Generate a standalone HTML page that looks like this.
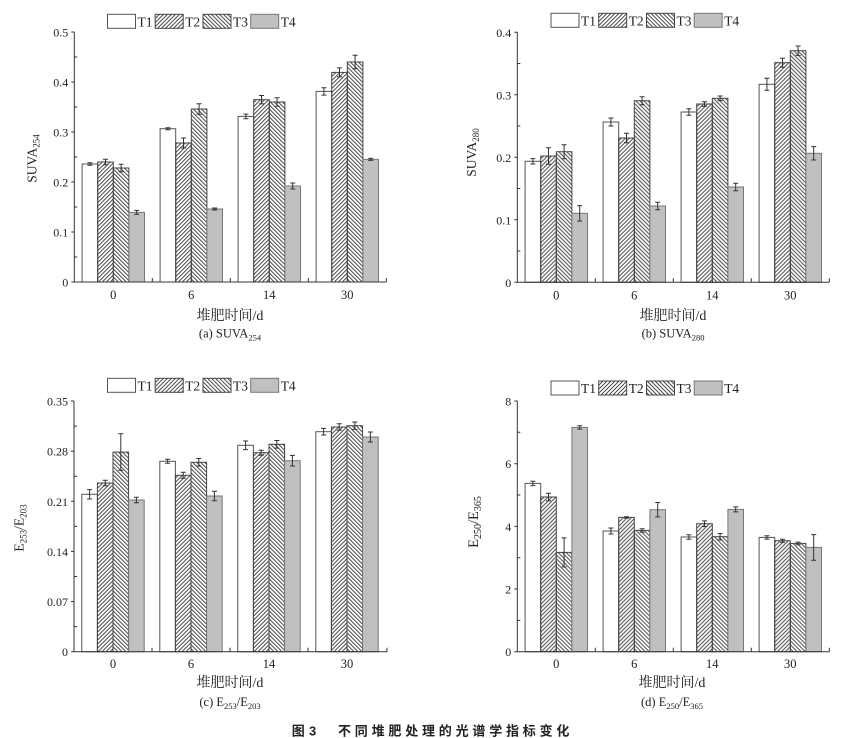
<!DOCTYPE html>
<html><head><meta charset="utf-8"><style>
html,body{margin:0;padding:0;background:#fff;}
svg{display:block;}
text{font-family:"Liberation Serif","Noto Serif CJK SC",serif;fill:#222;}
.b1{fill:#fff;stroke:#555;stroke-width:1;}
.b2{fill:url(#h2);stroke:#444;stroke-width:1;}
.b3{fill:url(#h3);stroke:#444;stroke-width:1;}
.b4{fill:#c0c0c0;stroke:#777;stroke-width:1;}
.ax{stroke:#333;stroke-width:1;fill:none;}
.er{stroke:#333;stroke-width:1;fill:none;}
.tk{font-size:12px;}
.tx{font-size:12.5px;}
.lg{font-size:13.5px;}
</style></head><body>
<svg width="844" height="738" viewBox="0 0 844 738" xmlns="http://www.w3.org/2000/svg">
<defs>
<pattern id="h2" patternUnits="userSpaceOnUse" width="4" height="4"><path d="M-1,1 l2,-2 M0,4 l4,-4 M3,5 l2,-2" stroke="#333" stroke-width="0.9"/></pattern>
<pattern id="h3" patternUnits="userSpaceOnUse" width="4" height="4"><path d="M-1,3 l2,2 M0,0 l4,4 M3,-1 l2,2" stroke="#333" stroke-width="0.9"/></pattern>
</defs>
<rect width="844" height="738" fill="#fff"/>

<!-- ===== Panel (a) ===== -->
<g transform="translate(107.5,14.3)">
<rect class="b1" x="0" y="0" width="28" height="14"/><text class="lg" x="30" y="12">T1</text>
<rect class="b2" x="47.7" y="0" width="28" height="14"/><text class="lg" x="77.7" y="12">T2</text>
<rect class="b3" x="95.5" y="0" width="28" height="14"/><text class="lg" x="125.5" y="12">T3</text>
<rect class="b4" x="143.2" y="0" width="28" height="14"/><text class="lg" x="173.2" y="12">T4</text>
</g>
<g transform="translate(74.3,282)">
<rect class="b1" x="7.8" y="-118" width="15.6" height="118"/>
<rect class="b2" x="23.4" y="-120" width="15.6" height="120"/>
<rect class="b3" x="39" y="-114" width="15.6" height="114"/>
<rect class="b4" x="54.6" y="-69.6" width="15.6" height="69.6"/>
<rect class="b1" x="85.8" y="-153.3" width="15.6" height="153.3"/>
<rect class="b2" x="101.4" y="-139" width="15.6" height="139"/>
<rect class="b3" x="117" y="-173" width="15.6" height="173"/>
<rect class="b4" x="132.6" y="-73" width="15.6" height="73"/>
<rect class="b1" x="163.8" y="-165.6" width="15.6" height="165.6"/>
<rect class="b2" x="179.4" y="-182.3" width="15.6" height="182.3"/>
<rect class="b3" x="195" y="-180" width="15.6" height="180"/>
<rect class="b4" x="210.6" y="-96" width="15.6" height="96"/>
<rect class="b1" x="241.8" y="-190.6" width="15.6" height="190.6"/>
<rect class="b2" x="257.4" y="-209.6" width="15.6" height="209.6"/>
<rect class="b3" x="273" y="-220" width="15.6" height="220"/>
<rect class="b4" x="288.6" y="-122.6" width="15.6" height="122.6"/>
<path class="er" d="M13.1,-119.3h5M15.6,-119.3V-116.7M13.1,-116.7h5M28.7,-122.7h5M31.2,-122.7V-117.3M28.7,-117.3h5M44.3,-117.7h5M46.8,-117.7V-110.3M44.3,-110.3h5M59.9,-71.6h5M62.4,-71.6V-67.6M59.9,-67.6h5M91.1,-154.3h5M93.6,-154.3V-152.3M91.1,-152.3h5M106.7,-144h5M109.2,-144V-134M106.7,-134h5M122.3,-178.3h5M124.8,-178.3V-167.7M122.3,-167.7h5M137.9,-74h5M140.4,-74V-72M137.9,-72h5M169.1,-167.9h5M171.6,-167.9V-163.3M169.1,-163.3h5M184.7,-186.5h5M187.2,-186.5V-178.1M184.7,-178.1h5M200.3,-184.2h5M202.8,-184.2V-175.8M200.3,-175.8h5M215.9,-99h5M218.4,-99V-93M215.9,-93h5M247.1,-194.3h5M249.6,-194.3V-186.9M247.1,-186.9h5M262.7,-214.1h5M265.2,-214.1V-205.1M262.7,-205.1h5M278.3,-226.7h5M280.8,-226.7V-213.3M278.3,-213.3h5M293.9,-123.6h5M296.4,-123.6V-121.6M293.9,-121.6h5"/>
<path class="ax" d="M0,-250V0H312M-3,0H0M-3,-50H0M-3,-100H0M-3,-150H0M-3,-200H0M-3,-250H0M0,-25H3M0,-75H3M0,-125H3M0,-175H3M0,-225H3M78,0V-4M156,0V-4M234,0V-4M312,0V-4"/>
<g class="tk" text-anchor="end">
<text x="-6" y="4.5">0</text><text x="-6" y="-45.5">0.1</text><text x="-6" y="-95.5">0.2</text><text x="-6" y="-145.5">0.3</text><text x="-6" y="-195.5">0.4</text><text x="-6" y="-245.5">0.5</text>
</g>
<g class="tx" text-anchor="middle">
<text x="39" y="17">0</text><text x="117" y="17">6</text><text x="195" y="17">14</text><text x="273" y="17">30</text>
</g>
</g>
<text x="230" y="320" text-anchor="middle" font-size="14">堆肥时间/d</text>
<text x="230" y="337.5" text-anchor="middle" font-size="12.5">(a) SUVA<tspan font-size="8.5" dy="3">254</tspan></text>
<text transform="translate(36.5,158.5) rotate(-90)" text-anchor="middle" font-size="13.5">SUVA<tspan font-size="9" dy="3">254</tspan></text>

<!-- ===== Panel (b) ===== -->
<g transform="translate(551,13.3)">
<rect class="b1" x="0" y="0" width="28" height="14"/><text class="lg" x="30" y="12">T1</text>
<rect class="b2" x="47.7" y="0" width="28" height="14"/><text class="lg" x="77.7" y="12">T2</text>
<rect class="b3" x="95.5" y="0" width="28" height="14"/><text class="lg" x="125.5" y="12">T3</text>
<rect class="b4" x="143.2" y="0" width="28" height="14"/><text class="lg" x="173.2" y="12">T4</text>
</g>
<g transform="translate(517.3,282.3)">
<rect class="b1" x="7.8" y="-121" width="15.6" height="121"/>
<rect class="b2" x="23.4" y="-126.3" width="15.6" height="126.3"/>
<rect class="b3" x="39" y="-130.6" width="15.6" height="130.6"/>
<rect class="b4" x="54.6" y="-69" width="15.6" height="69"/>
<rect class="b1" x="85.8" y="-160.3" width="15.6" height="160.3"/>
<rect class="b2" x="101.4" y="-144.3" width="15.6" height="144.3"/>
<rect class="b3" x="117" y="-181.6" width="15.6" height="181.6"/>
<rect class="b4" x="132.6" y="-76.3" width="15.6" height="76.3"/>
<rect class="b1" x="163.8" y="-170.3" width="15.6" height="170.3"/>
<rect class="b2" x="179.4" y="-178.3" width="15.6" height="178.3"/>
<rect class="b3" x="195" y="-184" width="15.6" height="184"/>
<rect class="b4" x="210.6" y="-95.3" width="15.6" height="95.3"/>
<rect class="b1" x="241.8" y="-198" width="15.6" height="198"/>
<rect class="b2" x="257.4" y="-219.6" width="15.6" height="219.6"/>
<rect class="b3" x="273" y="-231.6" width="15.6" height="231.6"/>
<rect class="b4" x="288.6" y="-129" width="15.6" height="129"/>
<path class="er" d="M13.1,-123.7h5M15.6,-123.7V-118.3M13.1,-118.3h5M28.7,-134.6h5M31.2,-134.6V-118M28.7,-118h5M44.3,-137.6h5M46.8,-137.6V-123.6M44.3,-123.6h5M59.9,-76.7h5M62.4,-76.7V-61.3M59.9,-61.3h5M91.1,-164.3h5M93.6,-164.3V-156.3M91.1,-156.3h5M106.7,-149h5M109.2,-149V-139.6M106.7,-139.6h5M122.3,-185.6h5M124.8,-185.6V-177.6M122.3,-177.6h5M137.9,-80.1h5M140.4,-80.1V-72.5M137.9,-72.5h5M169.1,-173.6h5M171.6,-173.6V-167M169.1,-167h5M184.7,-180.6h5M187.2,-180.6V-176M184.7,-176h5M200.3,-186.3h5M202.8,-186.3V-181.7M200.3,-181.7h5M215.9,-99.1h5M218.4,-99.1V-91.5M215.9,-91.5h5M247.1,-204h5M249.6,-204V-192M247.1,-192h5M262.7,-224.1h5M265.2,-224.1V-215.1M262.7,-215.1h5M278.3,-236.3h5M280.8,-236.3V-226.9M278.3,-226.9h5M293.9,-135.7h5M296.4,-135.7V-122.3M293.9,-122.3h5"/>
<path class="ax" d="M0,-250V0H312M-3,0H0M-3,-62.5H0M-3,-125H0M-3,-187.5H0M-3,-250H0M0,-31.25H3M0,-93.75H3M0,-156.25H3M0,-218.75H3M78,0V-4M156,0V-4M234,0V-4M312,0V-4"/>
<g class="tk" text-anchor="end">
<text x="-6" y="4.5">0</text><text x="-6" y="-58">0.1</text><text x="-6" y="-120.5">0.2</text><text x="-6" y="-183">0.3</text><text x="-6" y="-245.5">0.4</text>
</g>
<g class="tx" text-anchor="middle">
<text x="39" y="17">0</text><text x="117" y="17">6</text><text x="195" y="17">14</text><text x="273" y="17">30</text>
</g>
</g>
<text x="673" y="320" text-anchor="middle" font-size="14">堆肥时间/d</text>
<text x="673" y="337.5" text-anchor="middle" font-size="12.5">(b) SUVA<tspan font-size="8.5" dy="3">280</tspan></text>
<text transform="translate(476,152.5) rotate(-90)" text-anchor="middle" font-size="13.5">SUVA<tspan font-size="9" dy="3">280</tspan></text>

<!-- ===== Panel (c) ===== -->
<g transform="translate(107.5,378.3)">
<rect class="b1" x="0" y="0" width="28" height="14"/><text class="lg" x="30" y="12">T1</text>
<rect class="b2" x="47.7" y="0" width="28" height="14"/><text class="lg" x="77.7" y="12">T2</text>
<rect class="b3" x="95.5" y="0" width="28" height="14"/><text class="lg" x="125.5" y="12">T3</text>
<rect class="b4" x="143.2" y="0" width="28" height="14"/><text class="lg" x="173.2" y="12">T4</text>
</g>
<g transform="translate(74,651.7)">
<rect class="b1" x="7.8" y="-157.4" width="15.6" height="157.4"/>
<rect class="b2" x="23.4" y="-168.7" width="15.6" height="168.7"/>
<rect class="b3" x="39" y="-199.6" width="15.6" height="199.6"/>
<rect class="b4" x="54.6" y="-151.7" width="15.6" height="151.7"/>
<rect class="b1" x="85.8" y="-190.4" width="15.6" height="190.4"/>
<rect class="b2" x="101.4" y="-176.4" width="15.6" height="176.4"/>
<rect class="b3" x="117" y="-189.4" width="15.6" height="189.4"/>
<rect class="b4" x="132.6" y="-155.7" width="15.6" height="155.7"/>
<rect class="b1" x="163.8" y="-206.4" width="15.6" height="206.4"/>
<rect class="b2" x="179.4" y="-199" width="15.6" height="199"/>
<rect class="b3" x="195" y="-207.4" width="15.6" height="207.4"/>
<rect class="b4" x="210.6" y="-191" width="15.6" height="191"/>
<rect class="b1" x="241.8" y="-220" width="15.6" height="220"/>
<rect class="b2" x="257.4" y="-224.7" width="15.6" height="224.7"/>
<rect class="b3" x="273" y="-226" width="15.6" height="226"/>
<rect class="b4" x="288.6" y="-214.7" width="15.6" height="214.7"/>
<path class="er" d="M13.1,-162.1h5M15.6,-162.1V-152.7M13.1,-152.7h5M28.7,-171.4h5M31.2,-171.4V-166M28.7,-166h5M44.3,-217.9h5M46.8,-217.9V-181.3M44.3,-181.3h5M59.9,-154.4h5M62.4,-154.4V-149M59.9,-149h5M91.1,-192.4h5M93.6,-192.4V-188.4M91.1,-188.4h5M106.7,-179.4h5M109.2,-179.4V-173.4M106.7,-173.4h5M122.3,-193.2h5M124.8,-193.2V-185.6M122.3,-185.6h5M137.9,-160.4h5M140.4,-160.4V-151M137.9,-151h5M169.1,-210.7h5M171.6,-210.7V-202.1M169.1,-202.1h5M184.7,-201.5h5M187.2,-201.5V-196.5M184.7,-196.5h5M200.3,-211.2h5M202.8,-211.2V-203.6M200.3,-203.6h5M215.9,-196.3h5M218.4,-196.3V-185.7M215.9,-185.7h5M247.1,-223.3h5M249.6,-223.3V-216.7M247.1,-216.7h5M262.7,-228h5M265.2,-228V-221.4M262.7,-221.4h5M278.3,-229.7h5M280.8,-229.7V-222.3M278.3,-222.3h5M293.9,-219.7h5M296.4,-219.7V-209.7M293.9,-209.7h5"/>
<path class="ax" d="M0,-250.7V0H313M-3,0H0M-3,-50.14H0M-3,-100.28H0M-3,-150.42H0M-3,-200.56H0M-3,-250.7H0M0,-25.07H3M0,-75.21H3M0,-125.35H3M0,-175.49H3M0,-225.63H3M78,0V-4M156,0V-4M234,0V-4M313,0V-4"/>
<g class="tk" text-anchor="end">
<text x="-6" y="4.5">0</text><text x="-6" y="-45.6">0.07</text><text x="-6" y="-95.8">0.14</text><text x="-6" y="-145.9">0.21</text><text x="-6" y="-196.1">0.28</text><text x="-6" y="-246.2">0.35</text>
</g>
<g class="tx" text-anchor="middle">
<text x="39" y="16.5">0</text><text x="117" y="16.5">6</text><text x="195" y="16.5">14</text><text x="273" y="16.5">30</text>
</g>
</g>
<text x="230" y="687" text-anchor="middle" font-size="14">堆肥时间/d</text>
<text x="230" y="706" text-anchor="middle" font-size="12.5">(c) E<tspan font-size="8.5" dy="3">253</tspan><tspan dy="-3">/E</tspan><tspan font-size="8.5" dy="3">203</tspan></text>
<text transform="translate(23.5,528) rotate(-90)" text-anchor="middle" font-size="13.5">E<tspan font-size="9" dy="3">253</tspan><tspan dy="-3">/E</tspan><tspan font-size="9" dy="3">203</tspan></text>

<!-- ===== Panel (d) ===== -->
<g transform="translate(551,381)">
<rect class="b1" x="0" y="0" width="28" height="14"/><text class="lg" x="30" y="12">T1</text>
<rect class="b2" x="47.7" y="0" width="28" height="14"/><text class="lg" x="77.7" y="12">T2</text>
<rect class="b3" x="95.5" y="0" width="28" height="14"/><text class="lg" x="125.5" y="12">T3</text>
<rect class="b4" x="143.2" y="0" width="28" height="14"/><text class="lg" x="173.2" y="12">T4</text>
</g>
<g transform="translate(517.3,651.7)">
<rect class="b1" x="7.8" y="-168.3" width="15.6" height="168.3"/>
<rect class="b2" x="23.4" y="-154.7" width="15.6" height="154.7"/>
<rect class="b3" x="39" y="-99.3" width="15.6" height="99.3"/>
<rect class="b4" x="54.6" y="-224.3" width="15.6" height="224.3"/>
<rect class="b1" x="85.8" y="-120.7" width="15.6" height="120.7"/>
<rect class="b2" x="101.4" y="-134.3" width="15.6" height="134.3"/>
<rect class="b3" x="117" y="-121.3" width="15.6" height="121.3"/>
<rect class="b4" x="132.6" y="-142" width="15.6" height="142"/>
<rect class="b1" x="163.8" y="-114.7" width="15.6" height="114.7"/>
<rect class="b2" x="179.4" y="-128" width="15.6" height="128"/>
<rect class="b3" x="195" y="-115" width="15.6" height="115"/>
<rect class="b4" x="210.6" y="-142.3" width="15.6" height="142.3"/>
<rect class="b1" x="241.8" y="-114.3" width="15.6" height="114.3"/>
<rect class="b2" x="257.4" y="-111" width="15.6" height="111"/>
<rect class="b3" x="273" y="-108.3" width="15.6" height="108.3"/>
<rect class="b4" x="288.6" y="-104.3" width="15.6" height="104.3"/>
<path class="er" d="M13.1,-170.5h5M15.6,-170.5V-166.1M13.1,-166.1h5M28.7,-158.5h5M31.2,-158.5V-150.9M28.7,-150.9h5M44.3,-113.8h5M46.8,-113.8V-84.8M44.3,-84.8h5M59.9,-226h5M62.4,-226V-222.6M59.9,-222.6h5M91.1,-123.7h5M93.6,-123.7V-117.7M91.1,-117.7h5M106.7,-135h5M109.2,-135V-133.6M106.7,-133.6h5M122.3,-123h5M124.8,-123V-119.6M122.3,-119.6h5M137.9,-149.2h5M140.4,-149.2V-134.8M137.9,-134.8h5M169.1,-117h5M171.6,-117V-112.4M169.1,-112.4h5M184.7,-130.8h5M187.2,-130.8V-125.2M184.7,-125.2h5M200.3,-118.2h5M202.8,-118.2V-111.8M200.3,-111.8h5M215.9,-144.8h5M218.4,-144.8V-139.8M215.9,-139.8h5M247.1,-116h5M249.6,-116V-112.6M247.1,-112.6h5M262.7,-112.5h5M265.2,-112.5V-109.5M262.7,-109.5h5M278.3,-109.6h5M280.8,-109.6V-107M278.3,-107h5M293.9,-117.1h5M296.4,-117.1V-91.5M293.9,-91.5h5"/>
<path class="ax" d="M0,-250.7V0H312M-3,0H0M-3,-62.7H0M-3,-125.35H0M-3,-188H0M-3,-250.7H0M0,-31.3H3M0,-94H3M0,-156.7H3M0,-219.4H3M78,0V-4M156,0V-4M234,0V-4M312,0V-4"/>
<g class="tk" text-anchor="end">
<text x="-6" y="4.5">0</text><text x="-6" y="-58.2">2</text><text x="-6" y="-120.9">4</text><text x="-6" y="-183.5">6</text><text x="-6" y="-246.2">8</text>
</g>
<g class="tx" text-anchor="middle">
<text x="39" y="16.5">0</text><text x="117" y="16.5">6</text><text x="195" y="16.5">14</text><text x="273" y="16.5">30</text>
</g>
</g>
<text x="672" y="687" text-anchor="middle" font-size="14">堆肥时间/d</text>
<text x="672" y="706" text-anchor="middle" font-size="12.5">(d) E<tspan font-size="8.5" dy="3">250</tspan><tspan dy="-3">/E</tspan><tspan font-size="8.5" dy="3">365</tspan></text>
<text transform="translate(478,522) rotate(-90)" text-anchor="middle" font-size="14.5">E<tspan font-size="10" dy="3">250</tspan><tspan dy="-3">/E</tspan><tspan font-size="10" dy="3">365</tspan></text>

<!-- caption -->
<text x="291.7" y="735.5" font-size="13" font-weight="bold" style="font-family:'Liberation Sans','Noto Sans CJK SC',sans-serif;">图</text>
<text x="309" y="735.5" font-size="13" font-weight="bold" style="font-family:'Liberation Sans','Noto Sans CJK SC',sans-serif;">3</text>
<text x="338" y="735.5" font-size="13" font-weight="bold" letter-spacing="3.8" style="font-family:'Liberation Sans','Noto Sans CJK SC',sans-serif;">不同堆肥处理的光谱学指标变化</text>
</svg>
</body></html>
